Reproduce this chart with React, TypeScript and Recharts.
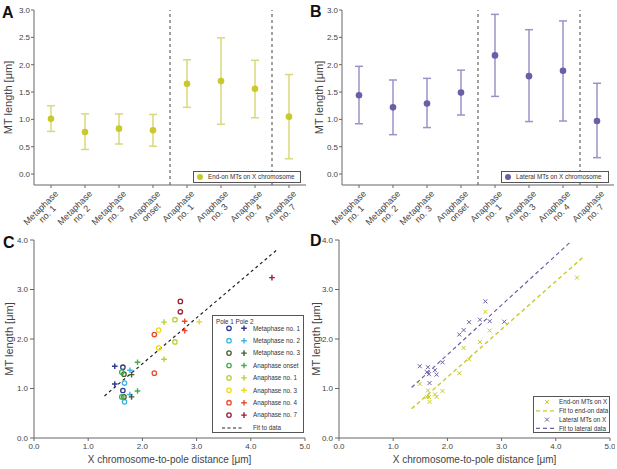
import React from 'react';
import { ComposedChart, Scatter, ErrorBar, XAxis, YAxis, ReferenceLine, Line, Legend } from 'recharts';

// stages shown on the x axis of A and B, and as groups in C
const stages = [
  'Metaphase no. 1',
  'Metaphase no. 2',
  'Metaphase no. 3',
  'Anaphase onset',
  'Anaphase no. 1',
  'Anaphase no. 3',
  'Anaphase no. 4',
  'Anaphase no. 7',
];

// A: end-on MTs, mean and error range
const endOnMean = [1.01, 0.77, 0.83, 0.8, 1.65, 1.7, 1.56, 1.05];
const endOnLow = [0.78, 0.45, 0.55, 0.51, 1.22, 0.91, 1.03, 0.28];
const endOnHigh = [1.25, 1.1, 1.1, 1.09, 2.09, 2.49, 2.08, 1.82];

// B: lateral MTs, mean and error range
const lateralMean = [1.44, 1.22, 1.29, 1.49, 2.17, 1.79, 1.89, 0.97];
const lateralLow = [0.92, 0.72, 0.85, 1.08, 1.42, 0.96, 0.97, 0.3];
const lateralHigh = [1.97, 1.72, 1.75, 1.9, 2.92, 2.64, 2.8, 1.66];

// C/D: per stage, distance to each pole and the MT lengths measured there
const pole1Dist = [1.64, 1.67, 1.66, 1.62, 2.6, 2.3, 2.22, 2.7];
const pole1EndOn = [0.96, 0.73, 0.83, 0.83, 1.94, 1.82, 1.31, 2.55];
const pole1Lateral = [1.43, 1.11, 1.29, 1.33, 2.39, 2.18, 2.09, 2.76];
const pole2Dist = [1.49, 1.77, 1.8, 1.91, 2.4, 3.05, 2.78, 4.39];
const pole2EndOn: (number | null)[] = [1.09, 0.88, 0.83, 0.95, 1.59, null, 2.17, 3.24];
const pole2Lateral: (number | null)[] = [1.45, 1.37, 1.28, 1.53, 2.34, 2.35, 2.36, null];

// fitted lines (end points)
const fitAllX = [1.3, 4.48];
const fitAllY = [0.85, 3.8];
const fitEndOnX = [1.34, 4.51];
const fitEndOnY = [0.59, 3.66];
const fitLateralX = [1.34, 4.29];
const fitLateralY = [1.02, 3.98];

const lengthTicks = [0, 0.5, 1, 1.5, 2, 2.5, 3];
const distTicks = [0, 1, 2, 3, 4, 5];
const scatterLengthTicks = [0, 1, 2, 3, 4];

const stageColors = ['#2e3a8f', '#3db4e6', '#46602a', '#43b04c', '#b7d13a', '#f2d91b', '#ec4a30', '#9c1f36'];
const YELLOW = '#c9c92c';
const YELLOW_BAR = '#d8d87c';
const PURPLE = '#6a5fa6';
const PURPLE_BAR = '#9a93c8';
const FONT = '"Liberation Sans", Arial, sans-serif';
const AXIS = '#666';
const TEXT = '#444';

const fmt = (v: number) => v.toFixed(1);
const pts = (xs: number[], ys: (number | null)[]) =>
  xs.map((x, i) => ({ x, y: ys[i] })).filter((p) => p.y !== null);

const endOnData = stages.map((stage, i) => ({
  stage,
  mean: endOnMean[i],
  err: [endOnMean[i] - endOnLow[i], endOnHigh[i] - endOnMean[i]],
}));
const lateralData = stages.map((stage, i) => ({
  stage,
  mean: lateralMean[i],
  err: [lateralMean[i] - lateralLow[i], lateralHigh[i] - lateralMean[i]],
}));

const allEndOn = [...pts(pole1Dist, pole1EndOn), ...pts(pole2Dist, pole2EndOn)];
const allLateral = [...pts(pole1Dist, pole1Lateral), ...pts(pole2Dist, pole2Lateral)];

const StageTick = (props: any) => {
  const { x, y, payload } = props;
  const words = String(payload.value).split(' ');
  const first = words[0];
  const rest = words.slice(1).join(' ');
  const w = first.length * 4.9;
  return (
    <g transform={`translate(${x},${y - 3}) rotate(-45)`}>
      <text x={-1} y={12} textAnchor="end" fontSize={9} fill={TEXT} fontFamily={FONT}>
        {first}
      </text>
      <text x={-1 - w / 2} y={21} textAnchor="middle" fontSize={9} fill={TEXT} fontFamily={FONT}>
        {rest}
      </text>
    </g>
  );
};

const ring = (color: string) => (p: any) =>
  <circle cx={p.cx} cy={p.cy} r={2.2} fill="none" stroke={color} strokeWidth={1.3} />;
const plus = (color: string) => (p: any) =>
  <path d={`M${p.cx - 2.8},${p.cy}h5.6M${p.cx},${p.cy - 2.8}v5.6`} stroke={color} strokeWidth={1.4} />;
const cross = (color: string) => (p: any) =>
  <path d={`M${p.cx - 2},${p.cy - 2}l4,4M${p.cx - 2},${p.cy + 2}l4,-4`} stroke={color} strokeWidth={1} />;

const MeanKey = ({ w, color, text }: { w: number; color: string; text: string }) => (
  <svg width={w} height={12} style={{ display: 'block' }}>
    <rect x={0.5} y={0.5} width={w - 1} height={11} fill="#fff" stroke="#555" />
    <circle cx={7} cy={6} r={3} fill={color} />
    <text x={15} y={8.2} fontSize={6.3} fill="#333" fontFamily={FONT}>{text}</text>
  </svg>
);

const PoleKey = () => (
  <svg width={92} height={118} style={{ display: 'block' }}>
    <rect x={0.5} y={0.5} width={91} height={117} fill="#fff" stroke="#555" />
    <text x={4} y={8.5} fontSize={6.3} fill="#333" fontFamily={FONT}>Pole 1 Pole 2</text>
    {stages.map((s, i) => {
      const cy = 13.3 + i * 12.4;
      return (
        <g key={s}>
          <circle cx={17} cy={cy} r={2.2} fill="none" stroke={stageColors[i]} strokeWidth={1.3} />
          <path d={`M${29.2},${cy}h5.6M32,${cy - 2.8}v5.6`} stroke={stageColors[i]} strokeWidth={1.4} />
          <text x={41} y={cy + 2.2} fontSize={6.3} fill="#333" fontFamily={FONT}>{s}</text>
        </g>
      );
    })}
    <line x1={10} x2={32} y1={113} y2={113} stroke="#222" strokeWidth={1.1} strokeDasharray="3 2.5" />
    <text x={41} y={115.2} fontSize={6.3} fill="#333" fontFamily={FONT}>Fit to data</text>
  </svg>
);

const FitKey = () => {
  const rows = [
    { text: 'End-on MTs on X', color: YELLOW, line: false },
    { text: 'Fit to end-on data', color: YELLOW, line: true },
    { text: 'Lateral MTs on X', color: PURPLE, line: false },
    { text: 'Fit to lateral data', color: PURPLE, line: true },
  ];
  return (
    <svg width={77} height={37} style={{ display: 'block' }}>
      <rect x={0.5} y={0.5} width={76} height={36} fill="#fff" stroke="#555" />
      {rows.map((r, i) => {
        const cy = 6 + i * 8.8;
        return (
          <g key={r.text}>
            {r.line ? (
              <line x1={3} x2={24} y1={cy} y2={cy} stroke={r.color} strokeWidth={1.2} strokeDasharray="4 3" />
            ) : (
              <path d={`M12,${cy - 2}l4,4M12,${cy + 2}l4,-4`} stroke={r.color} strokeWidth={1} />
            )}
            <text x={26} y={cy + 2.2} fontSize={6.3} fill="#333" fontFamily={FONT}>{r.text}</text>
          </g>
        );
      })}
    </svg>
  );
};

const yTitle = (offset: number) => ({
  value: 'MT length [μm]',
  angle: -90,
  position: 'insideLeft' as const,
  offset,
  style: { textAnchor: 'middle', fontSize: 11, fill: TEXT, fontFamily: FONT },
});

const StagePanel = ({
  data,
  width,
  right,
  dot,
  bar,
  legend,
  titleOffset,
}: {
  data: any[];
  width: number;
  right: number;
  dot: string;
  bar: string;
  legend: string;
  titleOffset: number;
}) => (
  <ComposedChart width={width} height={240} data={data} margin={{ top: 10, right, left: 0, bottom: 0 }}>
    <XAxis
      dataKey="stage"
      type="category"
      scale="band"
      height={55}
      interval={0}
      tick={(p: any) => <StageTick {...p} />}
      tickSize={3}
      tickMargin={0}
      axisLine={{ stroke: AXIS }}
      tickLine={{ stroke: AXIS }}
    />
    <YAxis
      type="number"
      domain={[-0.2, 3]}
      ticks={lengthTicks}
      tickFormatter={fmt}
      width={34}
      tickSize={3}
      tickMargin={1}
      allowDataOverflow
      axisLine={{ stroke: AXIS }}
      tickLine={{ stroke: AXIS }}
      tick={{ fontSize: 8, fill: TEXT, fontFamily: FONT }}
      label={yTitle(titleOffset)}
    />
    <ReferenceLine x="Anaphase no. 1" position="start" stroke="#555" strokeWidth={1.1} strokeDasharray="3 3" />
    <ReferenceLine x="Anaphase no. 7" position="start" stroke="#555" strokeWidth={1.1} strokeDasharray="3 3" />
    <Scatter
      dataKey="mean"
      isAnimationActive={false}
      shape={(p: any) => <circle cx={p.cx} cy={p.cy} r={3.3} fill={dot} />}
    >
      <ErrorBar dataKey="err" direction="y" width={4} stroke={bar} strokeWidth={1.5} isAnimationActive={false} />
    </Scatter>
    <Legend
      layout="vertical"
      align="center"
      verticalAlign="middle"
      wrapperStyle={{ left: 193, top: 171, width: 108, height: 12 }}
      content={() => <MeanKey w={108} color={dot} text={legend} />}
    />
  </ComposedChart>
);

const scatterAxes = (titleOffset: number) => [
  <XAxis
    key="x"
    type="number"
    dataKey="x"
    domain={[0, 5]}
    ticks={distTicks}
    tickFormatter={fmt}
    height={31}
    tickSize={3}
    tickMargin={2}
    allowDataOverflow
    axisLine={{ stroke: AXIS }}
    tickLine={{ stroke: AXIS }}
    tick={{ fontSize: 8, fill: TEXT, fontFamily: FONT }}
    label={{
      value: 'X chromosome-to-pole distance [μm]',
      position: 'insideBottom',
      offset: 6,
      style: { fontSize: 10, fill: TEXT, fontFamily: FONT },
    }}
  />,
  <YAxis
    key="y"
    type="number"
    dataKey="y"
    domain={[0, 4]}
    ticks={scatterLengthTicks}
    tickFormatter={fmt}
    width={34}
    tickSize={4}
    tickMargin={2}
    allowDataOverflow
    axisLine={{ stroke: AXIS }}
    tickLine={{ stroke: AXIS }}
    tick={{ fontSize: 8, fill: TEXT, fontFamily: FONT }}
    label={yTitle(titleOffset)}
  />,
];

const PoleScatter = () => (
  <ComposedChart width={310} height={239} margin={{ top: 10, right: 5, left: 0, bottom: 0 }}>
    {scatterAxes(9)}
    <Line
      data={pts(fitAllX, fitAllY)}
      dataKey="y"
      type="linear"
      stroke="#222"
      strokeWidth={1.2}
      strokeDasharray="3 3"
      dot={false}
      isAnimationActive={false}
    />
    {stages.map((s, i) => (
      <Scatter
        key={`p1-${s}`}
        data={[{ x: pole1Dist[i], y: pole1EndOn[i] }, { x: pole1Dist[i], y: pole1Lateral[i] }]}
        shape={ring(stageColors[i])}
        isAnimationActive={false}
      />
    ))}
    {stages.map((s, i) => (
      <Scatter
        key={`p2-${s}`}
        data={[{ x: pole2Dist[i], y: pole2EndOn[i] }, { x: pole2Dist[i], y: pole2Lateral[i] }].filter((p) => p.y !== null)}
        shape={plus(stageColors[i])}
        isAnimationActive={false}
      />
    ))}
    <Legend
      layout="vertical"
      align="center"
      verticalAlign="middle"
      wrapperStyle={{ left: 212, top: 85, width: 92, height: 118 }}
      content={() => <PoleKey />}
    />
  </ComposedChart>
);

const TypeScatter = () => (
  <ComposedChart width={310} height={239} margin={{ top: 10, right: 5, left: 0, bottom: 0 }}>
    {scatterAxes(11)}
    <Line
      data={pts(fitEndOnX, fitEndOnY)}
      dataKey="y"
      type="linear"
      stroke={YELLOW}
      strokeWidth={1.4}
      strokeDasharray="4 3"
      dot={false}
      isAnimationActive={false}
    />
    <Line
      data={pts(fitLateralX, fitLateralY)}
      dataKey="y"
      type="linear"
      stroke={PURPLE}
      strokeWidth={1.2}
      strokeDasharray="4 3"
      dot={false}
      isAnimationActive={false}
    />
    <Scatter data={allEndOn} shape={cross(YELLOW)} isAnimationActive={false} />
    <Scatter data={allLateral} shape={cross(PURPLE)} isAnimationActive={false} />
    <Legend
      layout="vertical"
      align="center"
      verticalAlign="middle"
      wrapperStyle={{ left: 228, top: 166, width: 77, height: 37 }}
      content={() => <FitKey />}
    />
  </ComposedChart>
);

const letter: React.CSSProperties = {
  position: 'absolute',
  fontFamily: FONT,
  fontWeight: 'bold',
  fontSize: 16,
  lineHeight: '16px',
  color: '#111',
};

export default function App() {
  return (
    <div style={{ position: 'absolute', left: 0, top: 0, width: 617, height: 469, background: '#fff', overflow: 'hidden' }}>
      <div style={{ position: 'absolute', left: 0, top: 0 }}>
        <StagePanel data={endOnData} width={310} right={4} dot={YELLOW} bar={YELLOW_BAR} legend="End-on MTs on X chromosome" titleOffset={8} />
      </div>
      <div style={{ position: 'absolute', left: 308, top: 0 }}>
        <StagePanel data={lateralData} width={309} right={3} dot={PURPLE} bar={PURPLE_BAR} legend="Lateral MTs on X chromosome" titleOffset={11} />
      </div>
      <div style={{ position: 'absolute', left: 0, top: 230 }}>
        <PoleScatter />
      </div>
      <div style={{ position: 'absolute', left: 305, top: 230 }}>
        <TypeScatter />
      </div>
      <div style={{ ...letter, left: 2, top: 5 }}>A</div>
      <div style={{ ...letter, left: 310, top: 4 }}>B</div>
      <div style={{ ...letter, left: 3, top: 235 }}>C</div>
      <div style={{ ...letter, left: 310, top: 233 }}>D</div>
    </div>
  );
}
